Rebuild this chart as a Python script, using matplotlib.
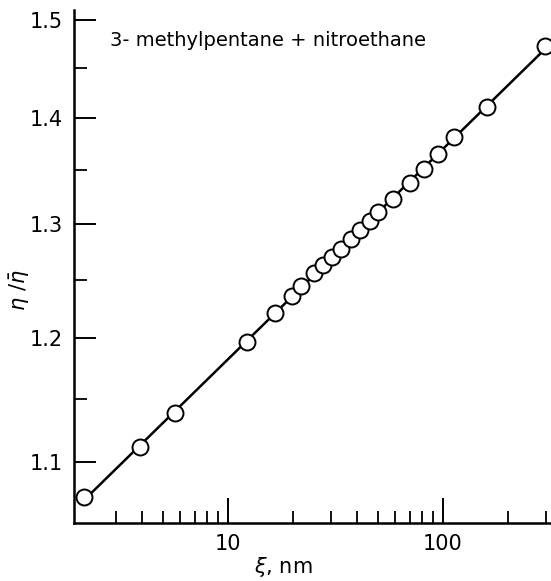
import numpy as np
import matplotlib
matplotlib.use("Agg")
import matplotlib.pyplot as plt
from matplotlib.ticker import FixedLocator, NullFormatter, FixedFormatter

# data
xi_nm = [2.14, 3.90, 5.67, 12.26, 16.5, 19.85, 21.85, 25.1, 27.7, 30.5, 33.5,
         37.3, 41.1, 45.8, 49.9, 58.5, 70.2, 81.6, 94.8, 112.5, 160.2, 298.0]
eta_ratio = [1.073, 1.112, 1.1385, 1.1966, 1.2212, 1.236, 1.2447, 1.256, 1.263,
             1.270, 1.277, 1.286, 1.2945, 1.3027, 1.311, 1.323, 1.338, 1.351,
             1.3655, 1.382, 1.411, 1.473]

x_major = [10, 100]
x_major_labels = ["10", "100"]
x_minor = [3, 4, 5, 6, 7, 8, 9, 20, 30, 40, 50, 60, 70, 80, 90, 200, 300]
y_major = [1.1, 1.2, 1.3, 1.4, 1.5]
y_major_labels = ["1.1", "1.2", "1.3", "1.4", "1.5"]
y_minor = [1.15, 1.25, 1.35, 1.45]

title = "3- methylpentane + nitroethane"

W, H = 551, 581
fig = plt.figure(figsize=(W / 100, H / 100), dpi=100)
ax = fig.add_axes([74 / W, 58 / H, (W - 74) / W, (523 - 10) / H])
ax.set_xscale("log")
ax.set_yscale("log")
ax.set_xlim(1.921, 317.8)
ax.set_ylim(1.0539, 1.5107)

# power-law fit line through data
lx = np.log(xi_nm)
ly = np.log(eta_ratio)
p = np.polyfit(lx, ly, 1)
xx = np.array([min(xi_nm), max(xi_nm)])
ax.plot(xx, np.exp(np.polyval(p, np.log(xx))), color="black", lw=1.8, zorder=2)
ax.plot(xi_nm, eta_ratio, "o", ms=11.5, mfc="white", mec="black", mew=1.4,
        zorder=3, clip_on=False)

for s in ["top", "right"]:
    ax.spines[s].set_visible(False)
for s in ["left", "bottom"]:
    ax.spines[s].set_linewidth(1.8)

ax.xaxis.set_major_locator(FixedLocator(x_major))
ax.xaxis.set_major_formatter(FixedFormatter(x_major_labels))
ax.xaxis.set_minor_locator(FixedLocator(x_minor))
ax.xaxis.set_minor_formatter(NullFormatter())
ax.yaxis.set_major_locator(FixedLocator(y_major))
ax.yaxis.set_major_formatter(FixedFormatter(y_major_labels))
ax.yaxis.set_minor_locator(FixedLocator(y_minor))
ax.yaxis.set_minor_formatter(NullFormatter())

ax.tick_params(axis="x", which="major", direction="in", length=18, width=1.4,
               labelsize=15, pad=8)
ax.tick_params(axis="x", which="minor", direction="in", length=8.5, width=1.3)
ax.tick_params(axis="y", which="major", direction="in", length=16, width=1.4,
               labelsize=15, pad=8)
ax.tick_params(axis="y", which="minor", direction="in", length=9.5, width=1.3)

fig.text(110 / W, 1 - 40 / H, title, fontsize=14, ha="left", va="center")
fig.text(283 / W, 1 - 567 / H, r"$\xi$, nm", fontsize=15, ha="center", va="center")
fig.text(20 / W, 1 - 290 / H, r"$\eta\ /\bar{\eta}$", fontsize=15, ha="center",
         va="center", rotation=90)

fig.savefig("out.png", dpi=100)
